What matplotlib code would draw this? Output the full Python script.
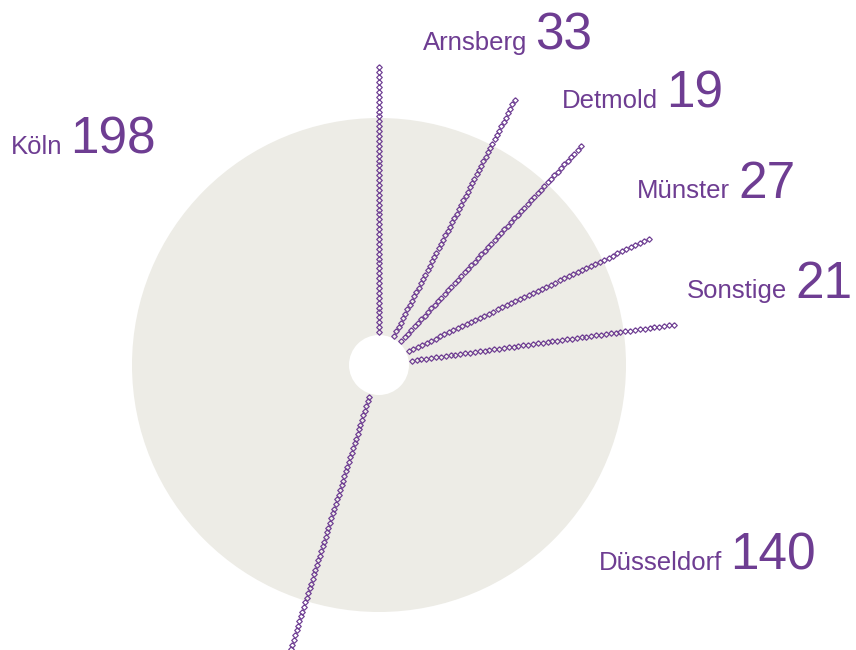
import matplotlib

matplotlib.use("Agg")
import matplotlib.pyplot as plt
import numpy as np
from matplotlib.patches import Circle

# Regions, listed counterclockwise starting at twelve o'clock
regions = ["Köln", "Düsseldorf", "Sonstige", "Münster", "Detmold", "Arnsberg"]
counts = [198, 140, 21, 27, 19, 33]

PURPLE = "#6E3D92"
DISC = "#EDECE6"

W, H = 856, 650
CX, CY = 379, 365
R_DISC = 247
R_HOLE = 30
R_START, R_END = 33, 301
STEP = 4.9

# label anchors in pixel space: (left edge of the number, baseline)
label_pos = {
    "Köln": (70, 154),
    "Düsseldorf": (730, 570),
    "Sonstige": (795, 298),
    "Münster": (738, 198),
    "Detmold": (666, 108),
    "Arnsberg": (535, 50),
}


def main() -> None:
    plt.rcParams["font.family"] = ["Liberation Sans", "DejaVu Sans"]
    fig = plt.figure(figsize=(W / 100, H / 100), dpi=100)
    ax = fig.add_axes([0, 0, 1, 1])
    ax.set_xlim(0, W)
    ax.set_ylim(H, 0)
    ax.set_aspect("equal")
    ax.set_axis_off()

    ax.add_patch(Circle((CX, CY), R_DISC, facecolor=DISC, edgecolor="none", zorder=1))
    ax.add_patch(Circle((CX, CY), R_HOLE, facecolor="white", edgecolor="none", zorder=2))

    # one spoke at every boundary between regions
    total = float(sum(counts))
    bounds = np.concatenate([[0.0], np.cumsum(counts)[:-1]])
    diamond = [(0, 1), (1, 0), (0, -1), (-1, 0), (0, 1)]
    r = np.arange(R_START, R_END, STEP)
    for b in bounds:
        a = np.deg2rad(360.0 * b / total)
        dx, dy = -np.sin(a), -np.cos(a)
        ax.plot(
            CX + r * dx,
            CY + r * dy,
            linestyle="none",
            marker=diamond,
            markersize=4.0,
            markerfacecolor="none",
            markeredgecolor=PURPLE,
            markeredgewidth=0.85,
            zorder=3,
        )

    for name, count in zip(regions, counts):
        x, y = label_pos[name]
        ax.text(x, y, str(count), ha="left", va="baseline", fontsize=37, color=PURPLE)
        ax.text(x - 8, y, name, ha="right", va="baseline", fontsize=18.5, color=PURPLE)

    fig.savefig("out.png", dpi=100)


if __name__ == "__main__":
    main()
